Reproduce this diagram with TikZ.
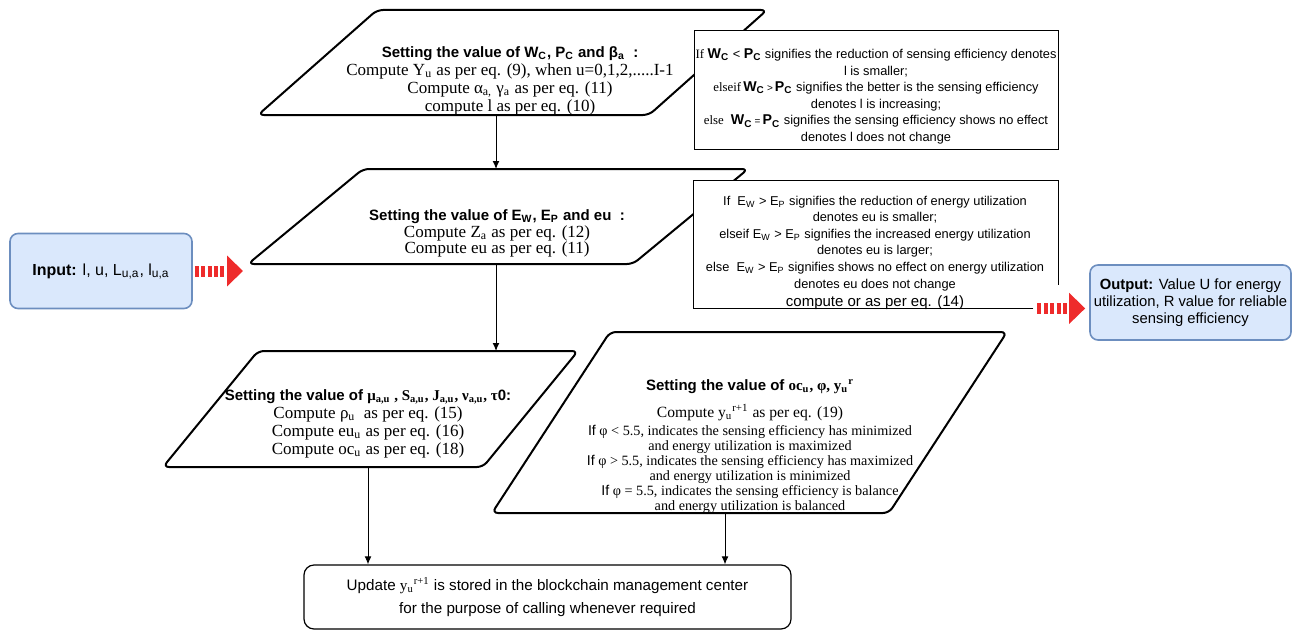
\documentclass[tikz,border=0pt]{standalone}
\usepackage{fontspec}
\setmainfont{Liberation Serif}
\setsansfont{Liberation Sans}
\usetikzlibrary{positioning,arrows.meta}
\definecolor{iofill}{HTML}{DAE8FC}
\definecolor{iodraw}{HTML}{6C8EBF}
\definecolor{flowred}{HTML}{EE2B2B}
\newcommand{\headtext}[1]{{\sffamily\bfseries\fontsize{7.5}{9}\selectfont #1}}
\newcommand{\wpc}[1]{{\fontsize{7.1}{8}\selectfont\bfseries #1}}
\newcommand{\smallrel}[1]{{\fontsize{5}{6}\selectfont #1}}

\begin{document}
\begin{tikzpicture}[x=0.5pt,y=-0.5pt,
    para/.style={draw,line width=1pt,rounded corners=3pt},
    paratext/.style={align=center,inner sep=0pt,font=\rmfamily\fontsize{8.5}{9}\selectfont},
    cond/.style={fill=white,inner sep=0pt,minimum width=182pt},
    condtext/.style={align=center,inner sep=0pt,font=\sffamily\fontsize{6.4}{8.3}\selectfont},
    ioblock/.style={draw=iodraw,fill=iofill,line width=0.8pt,rounded corners=4pt,inner sep=0pt,align=center,minimum height=37.5pt},
    endbox/.style={draw,line width=0.6pt,rounded corners=5pt,inner sep=0pt,align=center,minimum width=243.5pt,minimum height=32pt,font=\sffamily\fontsize{7.6}{11.5}\selectfont},
    flow/.style={-{Latex[length=4pt,width=3.4pt]},line width=0.5pt},
    redflow/.style={draw=flowred,line width=5.5pt,dash pattern=on 2pt off 1.2pt,-{Triangle[length=8pt,width=15pt]}}]
\useasboundingbox (0,0) rectangle (1304,631);

\draw[para] (377,10) -- (767,10) -- (649,115) -- (258,115) -- cycle;
\draw[para] (363,169) -- (748,169) -- (633,264) -- (248,264) -- cycle;
\draw[para] (258,351) -- (578,351) -- (483,467) -- (163,467) -- cycle;
\draw[para] (610,332) -- (1007,332) -- (889,513) -- (492,513) -- cycle;
\coordinate (p1 bot) at (496,115);
\coordinate (p2 top) at (496,169);
\coordinate (p2 bot) at (496,264);
\coordinate (p2 left) at (243,271);
\coordinate (p3 top) at (496,351);
\coordinate (p3 bot) at (368,467);
\coordinate (p4 bot) at (725,513);

\node[paratext] (p1 text) at (510,80.5) {\headtext{Setting the value of W\textsubscript{C}, P\textsubscript{C} and β\textsubscript{a}\ \ :}\\
    Compute Y\textsubscript{u} as per eq. (9), when u=0,1,2,.....I-1\\
    Compute α\textsubscript{a,} γ\textsubscript{a} as per eq. (11)\\
    compute l as per eq. (10)};
\node[paratext,font=\rmfamily\fontsize{8.5}{8.3}\selectfont] (p2 text) at (497,233.5) {\headtext{Setting the value of E\textsubscript{W}, E\textsubscript{P} and eu\ \ :}\\
    Compute Z\textsubscript{a} as per eq. (12)\\
    Compute eu as per eq. (11)};
\node[paratext] (p3 text) at (368,424) {\headtext{Setting the value of {\rmfamily μ\textsubscript{a,u} , S\textsubscript{a,u}, J\textsubscript{a,u}, ν\textsubscript{a,u}, τ}0:}\\
    Compute ρ\textsubscript{u}\ \ as per eq. (15)\\
    Compute eu\textsubscript{u} as per eq. (16)\\
    Compute oc\textsubscript{u} as per eq. (18)};
\node[paratext,font=\rmfamily\fontsize{7.1}{7.5}\selectfont] (p4 text) at (750,446.5) {\headtext{Setting the value of {\rmfamily oc\textsubscript{u}, φ, y\textsubscript{u}\textsuperscript{r}}}\\[4.5pt]
    {\fontsize{7.8}{9}\selectfont Compute y\textsubscript{u}\textsuperscript{r+1} as per eq. (19)}\\[1.5pt]
    {\sffamily If} φ < 5.5, indicates the sensing efficiency has minimized\\
    and energy utilization is maximized\\
    {\sffamily If} φ > 5.5, indicates the sensing efficiency has maximized\\
    and energy utilization is minimized\\
    {\sffamily If} φ = 5.5, indicates the sensing efficiency is balance\\
    and energy utilization is balanced};

\node[cond,draw,line width=0.5pt,minimum height=59pt] (cond1) at (876,90) {};
\node[condtext] (cond1 text) at (876,96.5) {{\rmfamily If}\ \wpc{W\textsubscript{C}} < \wpc{P\textsubscript{C}} signifies the reduction of sensing efficiency denotes\\
    l is smaller;\\
    {\rmfamily elseif}\,\wpc{W\textsubscript{C}}\,\smallrel{>}\,\wpc{P\textsubscript{C}} signifies the better is the sensing efficiency\\
    denotes l is increasing;\\
    {\rmfamily else}\ \ \wpc{W\textsubscript{C}}\,\smallrel{=}\,\wpc{P\textsubscript{C}} signifies the sensing efficiency shows no effect\\
    denotes l does not change};

\node[cond,minimum height=63.5pt] (cond2) at (876,244.5) {};
\coordinate (cond2 out) at ([xshift=-12.5pt]cond2.south east);
\draw[line width=0.5pt] (cond2 out) -- (cond2.south west) -- (cond2.north west) -- (cond2.north east) -- ([yshift=11.5pt]cond2.south east);
\node[condtext] (cond2 text) at (875,252.5) {If\ \ E\textsubscript{W} > E\textsubscript{P} signifies the reduction of energy utilization\\
    denotes eu is smaller;\\
    elseif E\textsubscript{W} > E\textsubscript{P} signifies the increased energy utilization\\
    denotes eu is larger;\\
    else\ \ E\textsubscript{W} > E\textsubscript{P} signifies shows no effect on energy utilization\\
    denotes eu does not change\\[0.7pt]
    {\fontsize{7.5}{9}\selectfont compute or as per eq. (14)}};

\node[ioblock,minimum width=91pt,font=\sffamily\fontsize{8}{9.6}\selectfont] (input) at (101,271) {\textbf{Input:} l, u, L\textsubscript{u,a}, l\textsubscript{u,a}};
\node[ioblock,minimum width=100.5pt,font=\sffamily\fontsize{7.4}{8.5}\selectfont] (output) at (1190.5,302.5) {\textbf{Output:} Value U for energy\\utilization, R value for reliable\\sensing efficiency};
\node[endbox] (final) at (547.5,597) {Update {\rmfamily y\textsubscript{u}\textsuperscript{r+1}} is stored in the blockchain management center\\
    for the purpose of calling whenever required};

\path[flow]
    (p1 bot) edge (p2 top)
    (p2 bot) edge (p3 top)
    (p3 bot) edge (p3 bot |- final.north)
    (p4 bot) edge (p4 bot |- final.north);
\draw[redflow,shorten <=1pt] (input.east) -- (p2 left);
\draw[redflow,shorten <=2pt,shorten >=2pt] (cond2 out) -- (cond2 out -| output.west);
\end{tikzpicture}
\end{document}
